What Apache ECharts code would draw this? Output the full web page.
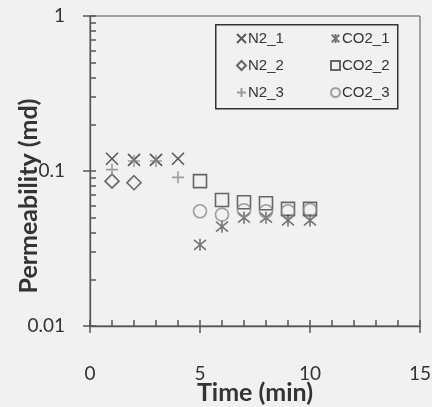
<!DOCTYPE html>
<html>
<head>
<meta charset="utf-8">
<script src="https://cdn.jsdelivr.net/npm/echarts@6/dist/echarts.min.js"></script>
<style>
  html, body { margin: 0; padding: 0; background: #f1f1f1; }
</style>
</head>
<body>
<div id="chart" style="width: 432px; height: 407px"></div>
<script>
// N2 runs (t = 1..4 min) and CO2 runs (t = 5..10 min)
const n2Time = [1, 2, 3, 4];
const n2_1 = [0.12, 0.118, 0.118, 0.12];
const n2_2 = [0.086, 0.084];
const n2_3 = [0.102, 0.116, 0.116, 0.091];
const co2Time = [5, 6, 7, 8, 9, 10];
const co2_1 = [0.0334, 0.0437, 0.05, 0.05, 0.048, 0.048];
const co2_2 = [0.086, 0.065, 0.0628, 0.062, 0.057, 0.057];
const co2_3 = [0.055, 0.0523, 0.0558, 0.055, 0.055, 0.056];

// ticks
const xTicks = [0, 5, 10, 15];
const xMinorTicks = [0, 1, 2, 3, 4, 5, 6, 7, 8, 9, 10, 11, 12, 13, 14, 15];
const yTicks = [0.01, 0.1, 1];
const yMinorTicks = [
  0.01, 0.02, 0.03, 0.04, 0.05, 0.06, 0.07, 0.08, 0.09,
  0.1, 0.2, 0.3, 0.4, 0.5, 0.6, 0.7, 0.8, 0.9, 1
];

const pairs = (xs, ys) => ys.map((v, i) => [xs[i], v]);

// 自定义符号（空心描边）
const SYM_X = "path://M0,0L10,10M10,0L0,10";
const SYM_STAR = "path://M0,0L10,10M10,0L0,10M5,-1L5,11";
const SYM_PLUS = "path://M5,0L5,10M0,5L10,5";

function mk(name, data, symbol, color, size) {
  return {
    name: name,
    type: "scatter",
    data: data,
    symbol: symbol,
    symbolSize: size,
    itemStyle: {
      color: "rgba(0,0,0,0)",
      borderColor: color,
      borderWidth: 1.6
    },
    emphasis: { disabled: true }
  };
}

const chart = echarts.init(document.getElementById("chart"));
const font = "Lato, 'Liberation Sans', sans-serif";
const axisColor = "#555";
const tickStyle = { color: axisColor, width: 1.5 };

chart.setOption({
  backgroundColor: "#f1f1f1",
  animation: false,
  grid: {
    left: 90,
    right: 12,
    top: 16,
    bottom: 81,
    outerBoundsMode: "none",
    show: true,
    borderColor: "#555",
    borderWidth: 1,
    backgroundColor: "transparent"
  },
  legend: [
    {
      data: ["N2_1", "N2_2", "N2_3"],
      orient: "vertical",
      left: 231,
      top: 26,
      itemWidth: 9,
      itemHeight: 9,
      itemGap: 12,
      textStyle: { fontFamily: "'Liberation Sans', Arial", fontSize: 15, color: "#333", padding: [0, 0, 0, -3] }
    },
    {
      data: ["CO2_1", "CO2_2", "CO2_3"],
      orient: "vertical",
      left: 325,
      top: 26,
      itemWidth: 9,
      itemHeight: 9,
      itemGap: 12,
      textStyle: { fontFamily: "'Liberation Sans', Arial", fontSize: 15, color: "#333", padding: [0, 0, 0, -3] }
    }
  ],
  graphic: [
    {
      type: "rect",
      left: 215,
      top: 24,
      shape: { width: 182, height: 84 },
      style: { fill: "transparent", stroke: "#333", lineWidth: 1.5 }
    }
  ],
  xAxis: [
    {
      type: "value",
      min: 0,
      max: 15,
      interval: 5,
      name: "Time (min)",
      nameLocation: "middle",
      nameGap: 54,
      nameMoveOverlap: false,
      nameTextStyle: { fontFamily: font, fontSize: 25, fontWeight: "bold", color: "#333" },
      axisLine: { lineStyle: { color: axisColor, width: 1.3 } },
      axisTick: { show: true, length: 7, lineStyle: tickStyle },
      axisLabel: {
        fontFamily: font,
        fontSize: 19,
        color: "#333",
        margin: 38
      },
      splitLine: { show: false }
    },
    {
      // 内侧刻度
      type: "value",
      min: 0,
      max: 15,
      position: "bottom",
      axisLine: { show: false },
      axisTick: { show: true, inside: true, length: 6, customValues: xMinorTicks, lineStyle: tickStyle },
      axisLabel: { show: false },
      splitLine: { show: false }
    }
  ],
  yAxis: [
    {
      type: "log",
      logBase: 10,
      min: 0.01,
      max: 1,
      name: "Permeability (md)",
      nameLocation: "middle",
      nameGap: 49,
      nameMoveOverlap: false,
      nameTextStyle: { fontFamily: font, fontSize: 25, fontWeight: "bold", color: "#333", padding: [0, 50, 0, 0] },
      axisLine: { show: true, lineStyle: { color: axisColor, width: 1.3 } },
      axisTick: { show: true, length: 7, lineStyle: tickStyle },
      axisLabel: { fontFamily: font, fontSize: 19, color: "#333", margin: 25 },
      splitLine: { show: false }
    },
    {
      type: "log",
      logBase: 10,
      min: 0.01,
      max: 1,
      position: "left",
      axisLine: { show: false },
      axisTick: { show: true, inside: true, length: 6, customValues: yMinorTicks, lineStyle: tickStyle },
      axisLabel: { show: false },
      splitLine: { show: false }
    }
  ],
  series: [
    mk("N2_1", pairs(n2Time, n2_1), SYM_X, "#333", 12),
    mk("N2_2", pairs(n2Time, n2_2), "diamond", "#444", 14),
    mk("N2_3", pairs(n2Time, n2_3), SYM_PLUS, "#888", 12),
    mk("CO2_1", pairs(co2Time, co2_1), SYM_STAR, "#555", 12),
    mk("CO2_2", pairs(co2Time, co2_2), "rect", "#444", 13),
    mk("CO2_3", pairs(co2Time, co2_3), "circle", "#888", 13)
  ]
});
</script>
</body>
</html>
